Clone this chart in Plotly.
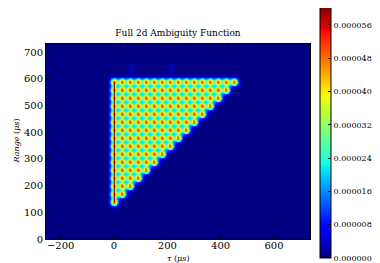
import numpy as np
import plotly.graph_objects as go

# ---- data ----
row_ranges = [139, 169, 199, 229, 259, 289, 319, 349, 379, 409, 439, 469, 499, 529, 559, 589]  # range of each dot row (us)
col_taus = [0, 30, 60, 90, 120, 150, 180, 210, 240, 270, 300, 330, 360, 390, 420, 450]        # tau of each dot column (us)
dot_peak = 5.0e-5           # peak value of each lattice dot
line_tau = 0                # the tau=0 ridge
line_range_start = 139
line_range_end = 589
line_peak = 5.75e-5
faint_taus = [65, 214]      # faint side-lobes above the triangle
faint_ranges = [641, 641]
faint_peaks = [3e-6, 3e-6]

x_ticks = [-200, 0, 200, 400, 600]
y_ticks = [0, 100, 200, 300, 400, 500, 600, 700]
cbar_ticks = [0.0, 8e-6, 1.6e-5, 2.4e-5, 3.2e-5, 4.0e-5, 4.8e-5, 5.6e-5]
cbar_labels = ["0.000000", "0.000008", "0.000016", "0.000024", "0.000032", "0.000040", "0.000048", "0.000056"]
z_max = 6.05e-5

# ---- build the image from the data ----
x_lo, x_hi, y_lo, y_hi = -255, 735, 0, 731
xs = np.arange(x_lo, x_hi + 1, 2.5)
ys = np.arange(y_lo, y_hi + 1, 2.5)
X, Y = np.meshgrid(xs, ys)
sig = 9.8
blobs = np.zeros_like(X)
for r in row_ranges:
    for t in col_taus:
        if t <= r - row_ranges[0] + 1e-9:
            blobs += dot_peak * np.exp(-((X - t) ** 2 + (Y - r) ** 2) / (2 * sig ** 2))
for t, r, a in zip(faint_taus, faint_ranges, faint_peaks):
    blobs += a * np.exp(-((X - t) ** 2 + (Y - r) ** 2) / (2 * 12.0 ** 2))
dy = np.clip(np.maximum(line_range_start - Y, Y - line_range_end), 0, None)
line = line_peak * np.exp(-((X - line_tau) ** 2) / (2 * 3.6 ** 2)) * np.exp(-(dy ** 2) / (2 * 3.0 ** 2))
Z = np.maximum(blobs, line)
Z = np.round(Z, 8)

# matplotlib 'jet'
seg = {
    "r": [(0, 0), (0.35, 0), (0.66, 1), (0.89, 1), (1, 0.5)],
    "g": [(0, 0), (0.125, 0), (0.375, 1), (0.64, 1), (0.91, 0), (1, 0)],
    "b": [(0, 0.5), (0.11, 1), (0.34, 1), (0.65, 0), (1, 0)],
}
stops = sorted(set(p for c in seg.values() for p, _ in c))
def ch(c, p):
    pts = seg[c]
    return float(np.interp(p, [q for q, _ in pts], [v for _, v in pts]))
jet = [[float(p), "rgb(%d,%d,%d)" % (round(255 * ch("r", p)), round(255 * ch("g", p)), round(255 * ch("b", p)))] for p in stops]

FONT = "DejaVu Serif"
W, H = 380, 263
L, R, T, B = 38, 78, 36, 32
PW, PH = W - L - R, H - T - B

fig = go.Figure(go.Heatmap(
    x=xs, y=ys, z=Z, colorscale=jet, zmin=0, zmax=z_max, zsmooth="best",
    colorbar=dict(
        thickness=11, x=(312 - L) / PW, xanchor="left", xpad=0, ypad=0,
        y=(H - B + 2) / PH, yanchor="top", lenmode="fraction", len=252 / PH,
        outlinecolor="black", outlinewidth=1,
        tickvals=cbar_ticks, ticktext=cbar_labels, ticks="inside", ticklen=3,
        tickcolor="black", tickfont=dict(family=FONT, size=8, color="black"),
    ),
))

fig.update_layout(
    width=W, height=H, paper_bgcolor="white", plot_bgcolor="white",
    margin=dict(l=L, r=R, t=T, b=B, autoexpand=False),
    title=dict(text="Full 2d Ambiguity Function", x=(L + W - R) / 2 / W, xanchor="center",
               xref="container", yref="container", y=1 - 25 / H, yanchor="middle",
               font=dict(family=FONT, size=9, color="black")),
    xaxis=dict(range=[x_lo, x_hi], tickvals=x_ticks, ticks="inside", ticklen=3, tickcolor="black",
               showline=True, mirror=True, linecolor="black", linewidth=1, showgrid=False, zeroline=False,
               ticklabelstandoff=-3,
               tickfont=dict(family=FONT, size=10, color="black")),
    yaxis=dict(range=[y_lo, y_hi], tickvals=y_ticks, ticks="inside", ticklen=3, tickcolor="black",
               showline=True, mirror=True, linecolor="black", linewidth=1, showgrid=False, zeroline=False,
               tickfont=dict(family=FONT, size=10, color="black")),
    annotations=[
        dict(text="<i>τ</i> (<i>μs</i>)", xref="paper", yref="paper", x=0.5, y=-(250 - H + B) / PH,
             xanchor="center", yanchor="middle", showarrow=False, font=dict(family=FONT, size=8, color="black")),
        dict(text="<i>Range</i> (<i>μs</i>)", xref="paper", yref="paper", x=-(L - 8) / PW, y=0.5,
             xanchor="center", yanchor="middle", textangle=-90, showarrow=False,
             font=dict(family=FONT, size=8, color="black")),
    ],
)

fig.write_html("out.html")
